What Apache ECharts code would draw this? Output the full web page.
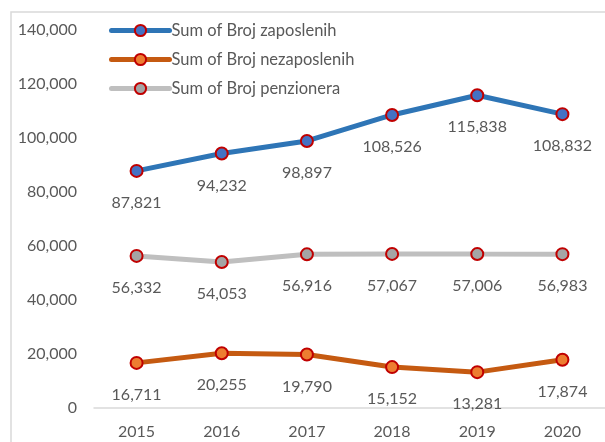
<!DOCTYPE html>
<html>
<head>
<meta charset="utf-8">
<script src="https://cdn.jsdelivr.net/npm/echarts@6/dist/echarts.min.js"></script>
<style>
  html, body { margin: 0; padding: 0; background: #fff; }
  #chart { width: 605px; height: 442px; }
</style>
</head>
<body>
<div id="chart"></div>
<script>
// podaci
const years = ['2015', '2016', '2017', '2018', '2019', '2020'];
const zaposleni = [87821, 94232, 98897, 108526, 115838, 108832];
const nezaposleni = [16711, 20255, 19790, 15152, 13281, 17874];
const penzioneri = [56332, 54053, 56916, 57067, 57006, 56983];

const textColor = '#595959';
const font = 'Lato, "Open Sans", sans-serif';

const chart = echarts.init(document.getElementById('chart'));

function makeSeries(name, data, lineColor, fillColor) {
  return {
    name: name,
    type: 'line',
    data: data,
    symbol: 'circle',
    symbolSize: 12,
    lineStyle: { color: lineColor, width: 5 },
    itemStyle: { color: fillColor, borderColor: '#C00000', borderWidth: 2 },
    label: {
      show: true,
      position: 'bottom',
      distance: 17,
      color: textColor,
      fontFamily: font,
      fontSize: 16,
      formatter: p => p.value.toLocaleString('en-US')
    },
    emphasis: { disabled: true },
    z: 3
  };
}

const option = {
  animation: false,
  backgroundColor: '#fff',
  graphic: [{
    type: 'rect',
    shape: { x: 11, y: 12, width: 700, height: 500 },
    style: { fill: 'none', stroke: '#d9d9d9', lineWidth: 1.5 },
    silent: true
  }],
  legend: {
    left: 104,
    top: 17,
    orient: 'vertical',
    itemWidth: 58,
    itemHeight: 14,
    itemGap: 12,
    lineStyle: { width: 5, cap: 'round' },
    textStyle: { color: textColor, fontFamily: font, fontSize: 16.5, padding: [0, 0, 0, -3] },
    data: ['Sum of Broj zaposlenih', 'Sum of Broj nezaposlenih', 'Sum of Broj penzionera']
  },
  grid: { left: 94, right: -4, top: 30, bottom: 34, containLabel: false },
  xAxis: {
    type: 'category',
    data: years,
    boundaryGap: true,
    axisLine: { lineStyle: { color: '#d9d9d9', width: 1.5 } },
    axisTick: { show: false },
    axisLabel: { color: textColor, fontFamily: font, fontSize: 16, margin: 16 }
  },
  yAxis: {
    type: 'value',
    min: 0,
    max: 140000,
    interval: 20000,
    splitLine: { show: false },
    axisLine: { show: false },
    axisTick: { show: false },
    axisLabel: {
      color: textColor, fontFamily: font, fontSize: 16, margin: 17,
      formatter: v => v.toLocaleString('en-US')
    }
  },
  series: [
    makeSeries('Sum of Broj zaposlenih', zaposleni, '#2E75B6', '#4472C4'),
    makeSeries('Sum of Broj nezaposlenih', nezaposleni, '#C55A11', '#ED7D31'),
    makeSeries('Sum of Broj penzionera', penzioneri, '#BFBFBF', '#A5A5A5')
  ]
};

chart.setOption(option);
</script>
</body>
</html>
